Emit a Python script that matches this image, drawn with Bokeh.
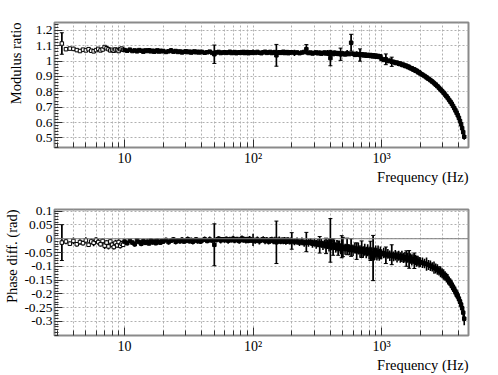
import numpy as np
from bokeh.plotting import figure
from bokeh.layouts import column
from bokeh.models import FixedTicker, Span, ColumnDataSource, Whisker, TeeHead, Title
from bokeh.embed import file_html
from bokeh.resources import INLINE

# ---------------- data ----------------
freq = [
    3.25, 3.5, 3.75, 4.0, 4.25, 4.5, 4.75, 5.0, 5.25, 5.5, 5.75, 6.0, 6.25, 6.5, 6.75, 7.0, 7.25, 7.5, 7.75, 8.0, 8.25, 8.5, 8.75, 9.0, 9.25, 9.5, 9.75,
    10, 10.5, 11, 11.5, 12, 12.5, 13, 13.5, 14, 14.5, 15, 15.5, 16, 16.5, 17, 17.5, 18, 18.5, 19, 19.5,
    20, 21, 22, 23, 24, 25, 26, 27, 28, 29, 30, 31, 32, 33, 34, 35, 36, 37, 38, 39,
    40, 42, 44, 46, 48, 50, 52, 54, 56, 58, 60, 62, 64, 66, 68, 70, 72, 74, 76, 78, 80, 82, 84, 86, 88, 90, 92, 94, 96, 98,
    100, 104, 108, 112, 116, 120, 124, 128, 132, 136, 140, 144, 148, 152, 156, 160, 164, 168, 172, 176, 180, 184, 188, 192, 196,
    200, 210, 220, 230, 240, 250, 260, 270, 280, 290, 300, 310, 320, 330, 340, 350, 360, 370, 380, 390, 400, 410, 420, 430, 440, 450, 460, 470, 480, 490,
    500, 520, 540, 560, 580, 600, 620, 640, 660, 680, 700, 720, 740, 760, 780, 800, 820, 840, 860, 880, 900, 920, 940, 960, 980,
    1000, 1040, 1080, 1120, 1160, 1200, 1240, 1280, 1320, 1360, 1400, 1440, 1480, 1520, 1560, 1600, 1640, 1680, 1720, 1760, 1800, 1840, 1880, 1920, 1960,
    2000, 2080, 2160, 2240, 2320, 2400, 2480, 2560, 2640, 2720, 2800, 2880, 2960, 3040, 3120, 3200, 3280, 3360, 3440, 3520, 3600, 3680, 3760, 3840, 3920, 4000, 4080, 4160, 4240, 4320, 4400,
]

modulus = [
    1.115, 1.078, 1.082, 1.080, 1.072, 1.066, 1.075, 1.070, 1.078, 1.068, 1.064, 1.072, 1.080, 1.070, 1.076, 1.092, 1.084, 1.078, 1.070, 1.074, 1.068, 1.076, 1.072, 1.066, 1.078, 1.082, 1.074,
    1.072, 1.068, 1.075, 1.066, 1.070, 1.064, 1.072, 1.068, 1.062, 1.070, 1.066, 1.071, 1.064, 1.068, 1.062, 1.066, 1.070, 1.063, 1.067, 1.065,
    1.066, 1.060, 1.064, 1.070, 1.062, 1.066, 1.060, 1.063, 1.057, 1.061, 1.064, 1.059, 1.062, 1.056, 1.060, 1.063, 1.058, 1.061, 1.057, 1.060,
    1.060, 1.055, 1.058, 1.062, 1.054, 1.045, 1.057, 1.060, 1.053, 1.056, 1.058, 1.054, 1.057, 1.061, 1.053, 1.056, 1.059, 1.052, 1.055, 1.058, 1.054, 1.057, 1.060, 1.053, 1.056, 1.059, 1.052, 1.055, 1.058, 1.054,
    1.058, 1.054, 1.060, 1.055, 1.052, 1.058, 1.061, 1.054, 1.057, 1.060, 1.053, 1.056, 1.059, 1.038, 1.055, 1.058, 1.054, 1.057, 1.061, 1.053, 1.056, 1.059, 1.052, 1.055, 1.058,
    1.058, 1.054, 1.057, 1.052, 1.056, 1.060, 1.078, 1.053, 1.056, 1.050, 1.054, 1.057, 1.051, 1.055, 1.049, 1.053, 1.056, 1.050, 1.054, 1.048, 1.020, 1.052, 1.046, 1.055, 1.049, 1.053, 1.047, 1.051, 1.045, 1.046,
    1.050, 1.044, 1.052, 1.046, 1.120, 1.048, 1.041, 1.047, 1.043, 1.040, 1.045, 1.038, 1.043, 1.036, 1.041, 1.035, 1.040, 1.033, 1.038, 1.031, 1.036, 1.029, 1.034, 1.027, 1.031,
    1.015, 1.008, 1.012, 1.001, 1.003, 0.996, 0.995, 0.989, 0.990, 0.983, 0.984, 0.976, 0.977, 0.969, 0.970, 0.962, 0.962, 0.954, 0.954, 0.946, 0.946, 0.937, 0.937, 0.928, 0.928,
    0.920, 0.912, 0.903, 0.894, 0.885, 0.876, 0.867, 0.857, 0.847, 0.837, 0.826, 0.815, 0.805, 0.794, 0.782, 0.771, 0.759, 0.747, 0.735, 0.722, 0.708, 0.694, 0.679, 0.663, 0.647, 0.630, 0.609, 0.588, 0.563, 0.537, 0.507,
]

modulus_err = [
    0.070, 0.008, 0.007, 0.008, 0.007, 0.008, 0.007, 0.008, 0.007, 0.008, 0.007, 0.008, 0.007, 0.008, 0.007, 0.008, 0.007, 0.008, 0.007, 0.008, 0.007, 0.008, 0.007, 0.008, 0.007, 0.008, 0.007,
    0.007, 0.006, 0.008, 0.007, 0.006, 0.007, 0.008, 0.006, 0.007, 0.008, 0.006, 0.007, 0.008, 0.006, 0.007, 0.008, 0.006, 0.007, 0.008, 0.006,
    0.007, 0.008, 0.006, 0.016, 0.007, 0.008, 0.006, 0.007, 0.008, 0.006, 0.007, 0.008, 0.006, 0.007, 0.008, 0.006, 0.007, 0.008, 0.006, 0.007,
    0.008, 0.007, 0.009, 0.008, 0.007, 0.060, 0.008, 0.009, 0.007, 0.008, 0.009, 0.007, 0.008, 0.009, 0.007, 0.008, 0.009, 0.007, 0.008, 0.009, 0.007, 0.008, 0.009, 0.007, 0.008, 0.009, 0.007, 0.008, 0.009, 0.007,
    0.018, 0.008, 0.009, 0.008, 0.007, 0.009, 0.008, 0.007, 0.009, 0.008, 0.007, 0.009, 0.008, 0.071, 0.008, 0.009, 0.007, 0.008, 0.009, 0.007, 0.008, 0.009, 0.007, 0.008, 0.009,
    0.009, 0.020, 0.008, 0.010, 0.009, 0.008, 0.030, 0.009, 0.010, 0.008, 0.012, 0.009, 0.010, 0.015, 0.009, 0.010, 0.012, 0.009, 0.018, 0.010, 0.050, 0.012, 0.010, 0.015, 0.011, 0.010, 0.013, 0.011, 0.040, 0.012,
    0.014, 0.012, 0.020, 0.011, 0.055, 0.013, 0.012, 0.018, 0.011, 0.040, 0.012, 0.014, 0.011, 0.015, 0.012, 0.013, 0.011, 0.016, 0.012, 0.013, 0.014, 0.012, 0.013, 0.011, 0.014,
    0.015, 0.014, 0.035, 0.014, 0.015, 0.030, 0.014, 0.015, 0.014, 0.016, 0.014, 0.015, 0.014, 0.016, 0.015, 0.014, 0.016, 0.015, 0.014, 0.016, 0.015, 0.014, 0.016, 0.015, 0.016,
    0.016, 0.017, 0.016, 0.018, 0.016, 0.017, 0.016, 0.018, 0.017, 0.016, 0.018, 0.017, 0.016, 0.018, 0.017, 0.016, 0.018, 0.017, 0.016, 0.018, 0.017, 0.016, 0.018, 0.017, 0.018, 0.017, 0.018, 0.019, 0.018, 0.019, 0.020,
]

phase = [
    -0.014, -0.010, -0.018, -0.008, -0.020, -0.012, -0.016, -0.006, -0.022, -0.010, -0.015, -0.004, -0.012, -0.020, -0.008, -0.025, -0.014, -0.028, -0.010, -0.022, -0.030, -0.015, -0.024, -0.012, -0.026, -0.018, -0.022,
    -0.010, -0.016, -0.008, -0.014, -0.020, -0.006, -0.012, -0.018, -0.009, -0.015, -0.011, -0.017, -0.007, -0.013, -0.010, -0.016, -0.008, -0.012, -0.014, -0.009,
    -0.010, -0.005, -0.012, -0.007, -0.003, -0.011, -0.006, -0.009, -0.004, -0.010, -0.007, -0.002, -0.009, -0.005, -0.011, -0.006, -0.003, -0.008, -0.005, -0.010,
    -0.006, -0.002, -0.008, -0.003, -0.006, -0.022, -0.004, 0.000, -0.006, -0.002, -0.005, -0.001, -0.007, -0.003, -0.005, 0.000, -0.006, -0.002, -0.004, -0.008, -0.003, 0.001, -0.005, -0.002, -0.006, -0.003, -0.007, -0.001, -0.004, -0.006,
    -0.004, -0.008, -0.003, -0.009, -0.005, -0.002, -0.008, -0.004, -0.010, -0.006, -0.003, -0.009, -0.005, -0.013, -0.007, -0.004, -0.010, -0.006, -0.008, -0.004, -0.011, -0.007, -0.005, -0.010, -0.008,
    -0.008, -0.012, -0.009, -0.014, -0.010, -0.016, -0.012, -0.015, -0.011, -0.018, -0.014, -0.020, -0.016, -0.022, -0.017, -0.024, -0.019, -0.026, -0.020, -0.028, -0.006, -0.024, -0.030, -0.022, -0.032, -0.025, -0.034, -0.027, -0.036, -0.029,
    -0.030, -0.038, -0.028, -0.040, -0.032, -0.042, -0.034, -0.045, -0.036, -0.046, -0.038, -0.048, -0.040, -0.050, -0.042, -0.052, -0.044, -0.053, -0.070, -0.055, -0.047, -0.056, -0.049, -0.058, -0.051,
    -0.056, -0.052, -0.060, -0.055, -0.062, -0.058, -0.064, -0.060, -0.066, -0.062, -0.068, -0.064, -0.070, -0.067, -0.072, -0.069, -0.075, -0.072, -0.077, -0.074, -0.080, -0.077, -0.082, -0.080, -0.085,
    -0.085, -0.087, -0.090, -0.092, -0.095, -0.098, -0.102, -0.105, -0.108, -0.112, -0.116, -0.120, -0.125, -0.130, -0.135, -0.141, -0.147, -0.154, -0.161, -0.168, -0.176, -0.184, -0.192, -0.200, -0.209, -0.218, -0.228, -0.239, -0.252, -0.268, -0.290,
]

phase_err = [
    0.065, 0.010, 0.008, 0.012, 0.008, 0.010, 0.009, 0.011, 0.008, 0.010, 0.012, 0.009, 0.011, 0.008, 0.010, 0.012, 0.009, 0.011, 0.008, 0.010, 0.009, 0.011, 0.008, 0.010, 0.009, 0.011, 0.008,
    0.008, 0.009, 0.007, 0.008, 0.009, 0.007, 0.008, 0.009, 0.007, 0.008, 0.009, 0.007, 0.008, 0.009, 0.007, 0.008, 0.009, 0.007, 0.008, 0.009,
    0.008, 0.009, 0.010, 0.008, 0.009, 0.010, 0.008, 0.009, 0.010, 0.008, 0.009, 0.010, 0.008, 0.009, 0.010, 0.008, 0.009, 0.010, 0.008, 0.009,
    0.009, 0.010, 0.008, 0.011, 0.009, 0.076, 0.010, 0.009, 0.011, 0.008, 0.010, 0.009, 0.011, 0.010, 0.009, 0.011, 0.010, 0.009, 0.011, 0.010, 0.009, 0.011, 0.010, 0.009, 0.011, 0.010, 0.009, 0.011, 0.010, 0.009,
    0.022, 0.010, 0.011, 0.012, 0.010, 0.011, 0.012, 0.010, 0.011, 0.012, 0.010, 0.011, 0.012, 0.077, 0.011, 0.012, 0.010, 0.011, 0.012, 0.010, 0.011, 0.012, 0.010, 0.011, 0.012,
    0.030, 0.012, 0.013, 0.012, 0.014, 0.013, 0.035, 0.014, 0.013, 0.015, 0.014, 0.016, 0.015, 0.030, 0.016, 0.017, 0.016, 0.028, 0.017, 0.018, 0.079, 0.018, 0.030, 0.019, 0.018, 0.020, 0.026, 0.019, 0.020, 0.040,
    0.035, 0.020, 0.030, 0.020, 0.032, 0.021, 0.020, 0.030, 0.021, 0.022, 0.030, 0.021, 0.022, 0.021, 0.022, 0.023, 0.035, 0.022, 0.082, 0.023, 0.022, 0.023, 0.024, 0.022, 0.023,
    0.018, 0.019, 0.030, 0.018, 0.019, 0.036, 0.018, 0.019, 0.020, 0.018, 0.019, 0.020, 0.018, 0.019, 0.028, 0.018, 0.032, 0.019, 0.020, 0.018, 0.028, 0.019, 0.020, 0.018, 0.019,
    0.018, 0.019, 0.017, 0.024, 0.018, 0.019, 0.017, 0.022, 0.018, 0.019, 0.017, 0.020, 0.018, 0.019, 0.017, 0.018, 0.019, 0.017, 0.018, 0.019, 0.017, 0.018, 0.019, 0.017, 0.018, 0.019, 0.018, 0.019, 0.020, 0.022, 0.024,
]

x_major_ticks = [10, 100, 1000]
x_major_labels = ["10", "10\u00b2", "10\u00b3"]
x_minor_ticks = [3, 4, 5, 6, 7, 8, 9, 20, 30, 40, 50, 60, 70, 80, 90,
                 200, 300, 400, 500, 600, 700, 800, 900, 2000, 3000, 4000]
mod_ticks = [0.5, 0.6, 0.7, 0.8, 0.9, 1.0, 1.1, 1.2]
mod_tick_labels = ["0.5", "0.6", "0.7", "0.8", "0.9", "1", "1.1", "1.2"]
phase_ticks = [-0.3, -0.25, -0.2, -0.15, -0.1, -0.05, 0.0, 0.05, 0.1]
phase_tick_labels = ["-0.3", "-0.25", "-0.2", "-0.15", "-0.1", "-0.05", "0", "0.05", "0.1"]
zero_level = 0.0
x_title = "Frequency (Hz)"
mod_title = "Modulus ratio"
phase_title = "Phase diff. (rad)"

n = len(freq)
for name, arr in [("modulus", modulus), ("modulus_err", modulus_err), ("phase", phase), ("phase_err", phase_err)]:
    if len(arr) != n:
        raise SystemExit(f"length mismatch {name}: {len(arr)} vs {n}")

X_LO, X_HI = 2.85, 4750
FONT = "Liberation Serif"
FRAME_C = "#8a8a8a"
GRID_C = "#b0b0b0"
CAP_MIN_ERR = 0.025   # only the larger error bars show a visible cap


def make_title(text, align, valign, standoff):
    return Title(text=text, align=align, vertical_align=valign, standoff=standoff,
                 text_font=FONT, text_font_size="14.5px", text_font_style="normal",
                 text_color="black", offset=0)


def panel(vals, errs, yr, yticks, ylabels, yminor, ylabel, b_top, f_h, b_bot, y_title_standoff):
    p = figure(frame_width=414, frame_height=f_h, x_axis_type="log",
               x_range=(X_LO, X_HI), y_range=yr,
               output_backend="svg", toolbar_location=None,
               min_border_left=53, min_border_right=25,
               min_border_top=b_top, min_border_bottom=b_bot,
               background_fill_color="white", border_fill_color="white")
    p.outline_line_color = FRAME_C
    p.outline_line_width = 2

    xt = FixedTicker(ticks=x_major_ticks, minor_ticks=x_minor_ticks)
    yt = FixedTicker(ticks=yticks, minor_ticks=yminor)
    p.xaxis.ticker = xt
    p.yaxis.ticker = yt
    p.xgrid.ticker = xt
    p.ygrid.ticker = yt
    p.xaxis.major_label_overrides = dict(zip(x_major_ticks, x_major_labels))
    p.yaxis.major_label_overrides = dict(zip(yticks, ylabels))

    for ax in (p.xaxis[0], p.yaxis[0]):
        ax.axis_line_color = None
        ax.major_tick_line_color = "#303030"
        ax.minor_tick_line_color = "#303030"
        ax.major_tick_out = 0
        ax.minor_tick_out = 0
        ax.major_label_text_font = FONT
        ax.major_label_text_color = "black"
    p.xaxis.major_label_text_font_size = "14px"
    p.yaxis.major_label_text_font_size = "13.5px"
    p.xaxis.major_tick_in = 8
    p.xaxis.minor_tick_in = 5
    p.yaxis.major_tick_in = 8
    p.yaxis.minor_tick_in = 4
    p.xaxis.major_label_standoff = 3
    p.yaxis.major_label_standoff = 2

    p.xgrid.grid_line_color = GRID_C
    p.xgrid.grid_line_dash = "2 2"
    p.xgrid.minor_grid_line_color = GRID_C
    p.xgrid.minor_grid_line_dash = "2 2"
    p.ygrid.grid_line_color = GRID_C
    p.ygrid.grid_line_dash = "2 2"

    # axis titles, right/top aligned to the frame like ROOT does
    p.add_layout(make_title(x_title, "right", "top", 0), "below")
    p.add_layout(make_title(ylabel, "right", "top", y_title_standoff), "left")

    lo = [v - e for v, e in zip(vals, errs)]
    hi = [v + e for v, e in zip(vals, errs)]
    fills = ["white" if f < 10 else "black" for f in freq]
    src = ColumnDataSource(dict(f=freq, y=vals, lo=lo, hi=hi, fill=fills))
    p.segment(x0="f", y0="lo", x1="f", y1="hi", source=src,
              line_color="black", line_width=1.6)
    big = [i for i, e in enumerate(errs) if e >= CAP_MIN_ERR]
    cap_src = ColumnDataSource(dict(f=[freq[i] for i in big],
                                    lo=[lo[i] for i in big],
                                    hi=[hi[i] for i in big]))
    p.add_layout(Whisker(source=cap_src, base="f", lower="lo", upper="hi",
                         line_color="black", line_width=1,
                         upper_head=TeeHead(size=4, line_color="black"),
                         lower_head=TeeHead(size=4, line_color="black")))
    p.scatter(x="f", y="y", source=src, marker="square", size=3.5,
              fill_color="fill", line_color="black", line_width=1)
    return p


minor_mod = [round(v, 3) for v in np.arange(0.44, 1.2501, 0.02)]
minor_ph = [round(v, 3) for v in np.arange(-0.35, 0.1051, 0.01)]

p1 = panel(modulus, modulus_err, (0.437, 1.252), mod_ticks, mod_tick_labels, minor_mod,
           mod_title, 22, 125, 43, 14)
p2 = panel(phase, phase_err, (-0.351, 0.106), phase_ticks, phase_tick_labels, minor_ph,
           phase_title, 19, 126, 38, 0)
p2.add_layout(Span(location=zero_level, dimension="width", line_color="#808080", line_width=1))

layout = column(p1, p2)
open("out.html", "w").write(file_html(layout, INLINE))
